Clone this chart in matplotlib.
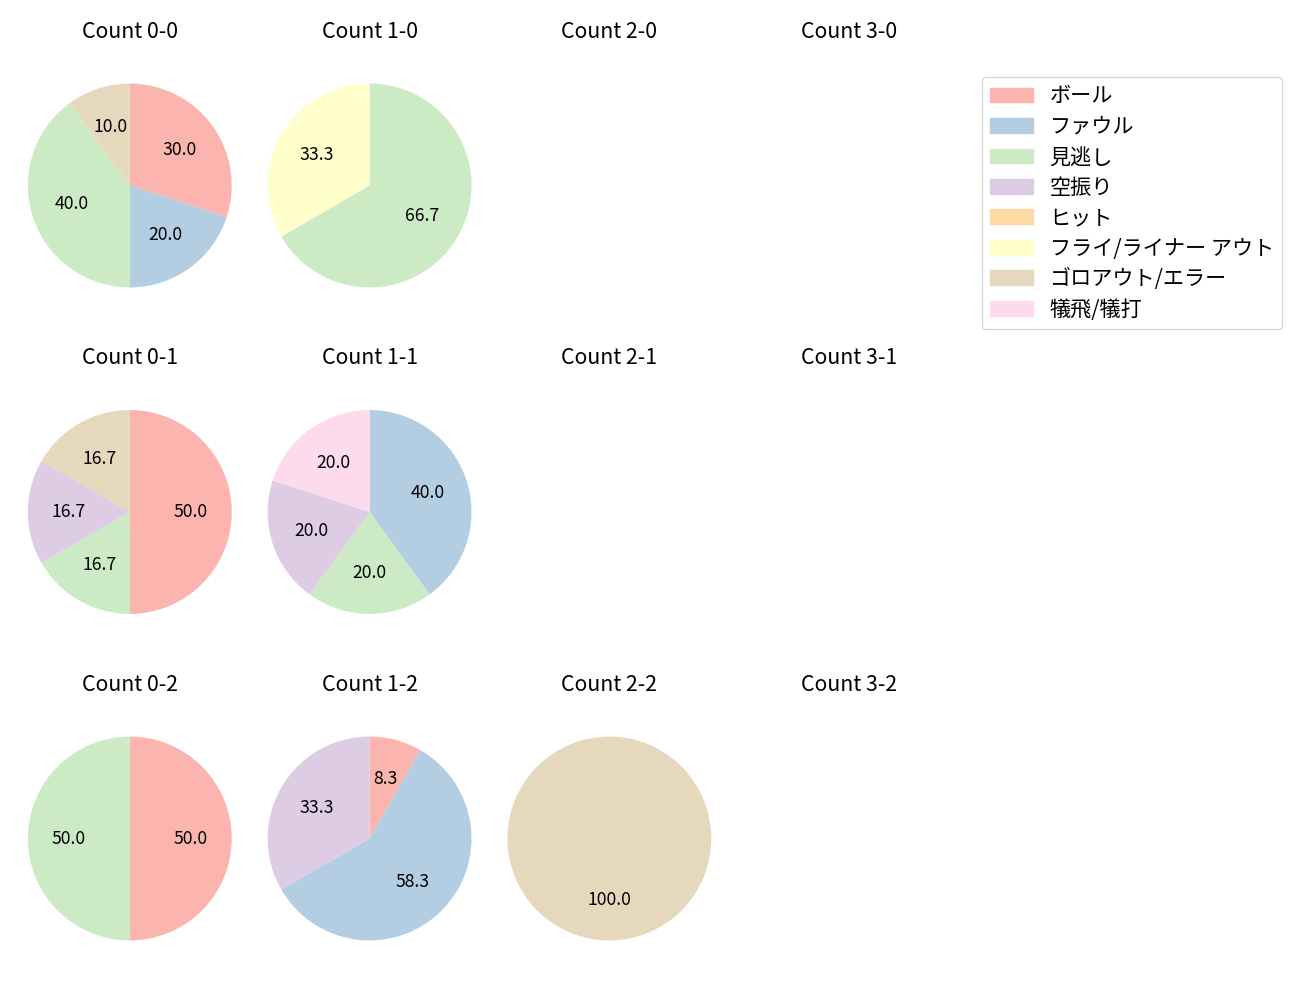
import matplotlib.pyplot as plt
import numpy as np

plt.rcParams['font.family'] = ['Noto Sans CJK JP', 'DejaVu Sans']

labels = ['ボール', 'ファウル', '見逃し', '空振り', 'ヒット',
          'フライ/ライナー アウト', 'ゴロアウト/エラー', '犠飛/犠打']
colors = plt.cm.Pastel1(np.arange(8))

# counts per pitch type, same order as labels
count_0_0 = [3, 2, 4, 0, 0, 0, 1, 0]
count_1_0 = [0, 0, 2, 0, 0, 1, 0, 0]
count_2_0 = [0, 0, 0, 0, 0, 0, 0, 0]
count_3_0 = [0, 0, 0, 0, 0, 0, 0, 0]
count_0_1 = [3, 0, 1, 1, 0, 0, 1, 0]
count_1_1 = [0, 2, 1, 1, 0, 0, 0, 1]
count_2_1 = [0, 0, 0, 0, 0, 0, 0, 0]
count_3_1 = [0, 0, 0, 0, 0, 0, 0, 0]
count_0_2 = [1, 0, 1, 0, 0, 0, 0, 0]
count_1_2 = [1, 7, 0, 4, 0, 0, 0, 0]
count_2_2 = [0, 0, 0, 0, 0, 0, 1, 0]
count_3_2 = [0, 0, 0, 0, 0, 0, 0, 0]

data = {
    (0, 0): count_0_0, (1, 0): count_1_0, (2, 0): count_2_0, (3, 0): count_3_0,
    (0, 1): count_0_1, (1, 1): count_1_1, (2, 1): count_2_1, (3, 1): count_3_1,
    (0, 2): count_0_2, (1, 2): count_1_2, (2, 2): count_2_2, (3, 2): count_3_2,
}

fig, axes = plt.subplots(3, 4, figsize=(13, 10))
fig.subplots_adjust(left=0.023, right=0.73, top=0.95, bottom=0.026,
                    wspace=0.2, hspace=0.205)

lim = 0.98
for (b, s), vals in data.items():
    ax = axes[s][b]
    vals = np.array(vals)
    idx = np.nonzero(vals)[0]
    if len(idx) > 0:
        ax.pie(vals[idx], colors=colors[idx], autopct='%.1f',
               startangle=90, counterclock=False,
               textprops={'fontsize': 12.7})
    ax.set_title(f'Count {b}-{s}', fontsize=15.3, pad=9)
    ax.axis('off')
    # keep the full cell (titles line up) and the pie round
    pos = ax.get_position(original=True)
    ratio = (pos.height * 10) / (pos.width * 13)
    ax.set_aspect('auto')
    ax.set_xlim(-lim, lim)
    ax.set_ylim(-lim * ratio, lim * ratio)

handles = [plt.Rectangle((0, 0), 1, 1, color=c) for c in colors]
fig.legend(handles, labels, loc='upper left', borderaxespad=0,
           bbox_to_anchor=(0.7554, 0.923), fontsize=15.2, labelspacing=0.4)

fig.savefig('out.png', dpi=100)
